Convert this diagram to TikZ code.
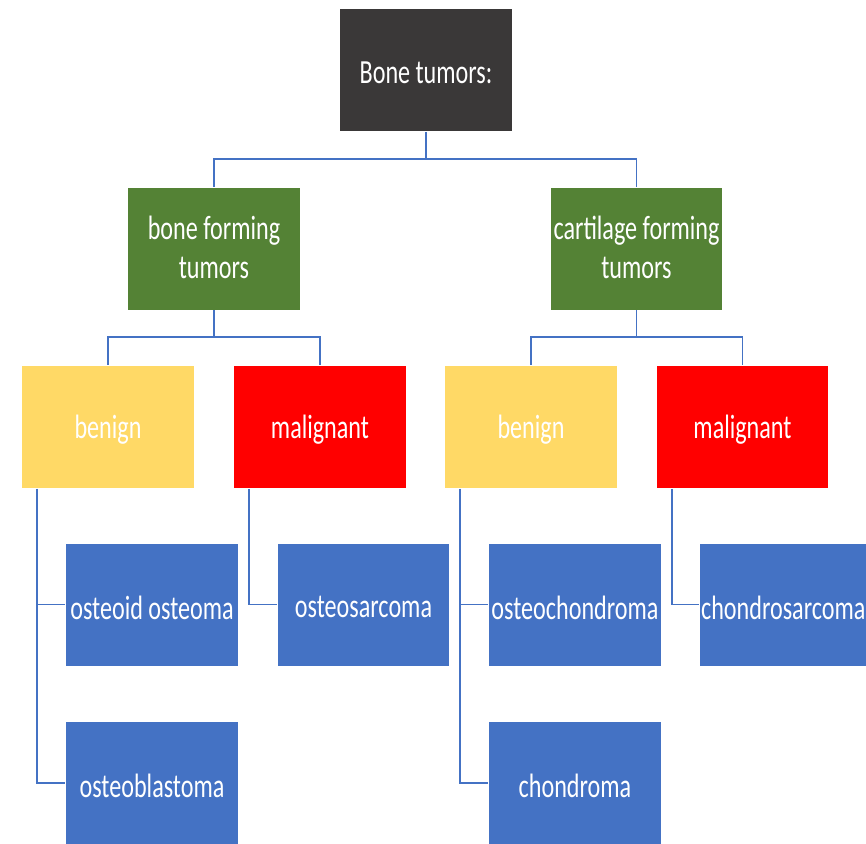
\documentclass[tikz,border=0pt]{standalone}
\usepackage{fontspec}
\setmainfont{Carlito}
\usetikzlibrary{calc,positioning}
\definecolor{tumdark}{HTML}{3A3838}
\definecolor{tumgreen}{HTML}{548235}
\definecolor{tumyellow}{HTML}{FFD966}
\definecolor{tumred}{HTML}{FF0000}
\definecolor{tumblue}{HTML}{4472C4}
\definecolor{tumline}{HTML}{4472C4}
\newcommand{\tallt}[1]{\raisebox{-2.5pt}[\height][\depth]{\scalebox{1}[1.4]{#1}}}
\begin{document}
\begin{tikzpicture}[x=0.03cm,y=-0.03cm,font=\fontsize{20.6}{24}\selectfont,
  tbox/.style={draw=white,line width=0.6pt,text=white,minimum width=5.18cm,minimum height=3.69cm,inner sep=0pt,align=center},
  conn/.style={draw=tumline,line width=1.6pt}]
\useasboundingbox (0,0) rectangle (866,844);
\def\busA{27}
\def\legX{0.48cm}
% top levels
\node[tbox,fill=tumdark] (root) at (426,70) {\tallt{Bone tumors:}};
\node[tbox,fill=tumgreen] (boneF) at (214,248.5) {\tallt{\begin{tabular}{@{}c@{}}bone forming\\tumors\end{tabular}}};
\node[tbox,fill=tumgreen] (cartF) at (636.5,248.5) {\tallt{\begin{tabular}{@{}c@{}}cartilage forming\\tumors\end{tabular}}};
\node[tbox,fill=tumyellow] (boneBen) at (108,427) {\tallt{benign}};
\node[tbox,fill=tumred] (boneMal) at (320,427) {\tallt{malignant}};
\node[tbox,fill=tumyellow] (cartBen) at (531,427) {\tallt{benign}};
\node[tbox,fill=tumred] (cartMal) at (742.5,427) {\tallt{malignant}};
% leaves
\foreach \nm/\x/\y/\txt in {
  ostOid/152/604.5/osteoid osteoma, ostBla/152/783/osteoblastoma,
  ostSar/363.5/604.5/osteosarcoma, ostChon/575/604.5/osteochondroma,
  chonMa/575/783/chondroma, chonSar/786/604.5/chondrosarcoma
} {
  \node[tbox,fill=tumblue] (\nm) at (\x,\y) {\tallt{\txt}};
}
% connectors
\draw[conn] (root.south) -- ++(0,\busA) -| (boneF.north);
\draw[conn] (root.south) -- ++(0,\busA) -| (cartF.north);
\draw[conn] (boneF.south) -- ++(0,\busA) -| (boneBen.north);
\draw[conn] (boneF.south) -- ++(0,\busA) -| (boneMal.north);
\draw[conn] (cartF.south) -- ++(0,\busA) -| (cartBen.north);
\draw[conn] (cartF.south) -- ++(0,\busA) -| (cartMal.north);
\draw[conn] ([xshift=\legX]boneBen.south west) |- (ostOid.west);
\draw[conn] ([xshift=\legX]boneBen.south west) |- (ostBla.west);
\draw[conn] ([xshift=\legX]boneMal.south west) |- (ostSar.west);
\draw[conn] ([xshift=\legX]cartBen.south west) |- (ostChon.west);
\draw[conn] ([xshift=\legX]cartBen.south west) |- (chonMa.west);
\draw[conn] ([xshift=\legX]cartMal.south west) |- (chonSar.west);
\end{tikzpicture}
\end{document}
